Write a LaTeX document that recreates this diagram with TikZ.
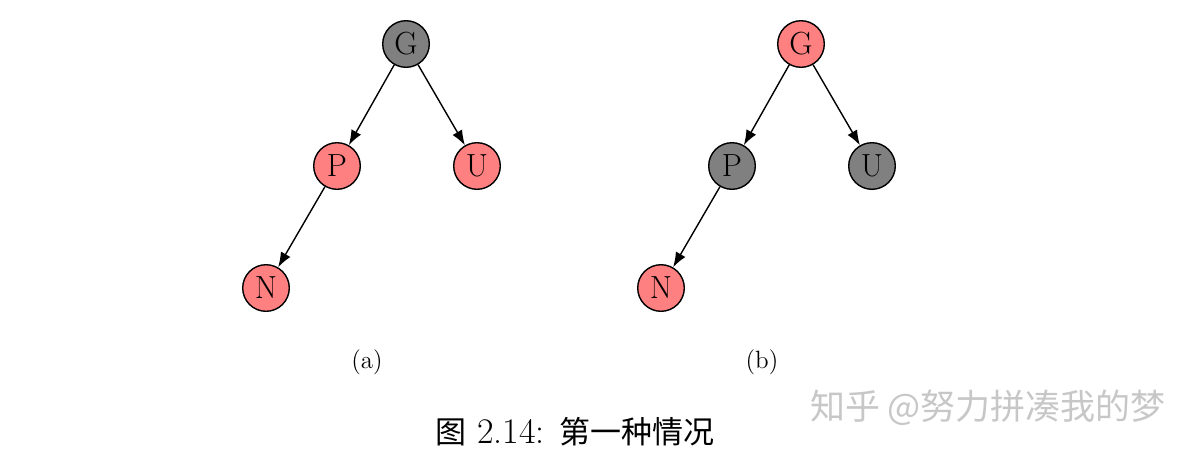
\documentclass[tikz,border=0pt]{standalone}
\usepackage{fontspec}
\newfontfamily\cjk{Noto Sans CJK SC}
\usetikzlibrary{arrows.meta}

\begin{document}
\begin{tikzpicture}[
    x=0.5pt, y=-0.5pt,
    every node/.style={font=\fontsize{16}{18}\selectfont},
    rbnode/.style={circle, draw=black, line width=0.7pt, minimum size=23.3pt, inner sep=0pt},
    rednode/.style={rbnode, fill=red!50},
    blacknode/.style={rbnode, fill=black!50},
    edge/.style={-{Latex[length=7.5pt, width=5.5pt]}, line width=0.7pt}
  ]
  \useasboundingbox (0,0) rectangle (1200,456);
  % (a)
  \node[blacknode] (ga) at (406,44) {G};
  \node[rednode] (pa) at (337,166) {P};
  \node[rednode] (ua) at (477,166) {U};
  \node[rednode] (na) at (266,288) {N};
  \draw[edge] (ga) -- (pa);
  \draw[edge] (ga) -- (ua);
  \draw[edge] (pa) -- (na);
  \node[font=\fontsize{12.5}{15}\selectfont] (capa) at (367,362) {(a)};
  % (b)
  \node[rednode] (gb) at (801,44) {G};
  \node[blacknode] (pb) at (732,166) {P};
  \node[blacknode] (ub) at (872,166) {U};
  \node[rednode] (nb) at (661,288) {N};
  \draw[edge] (gb) -- (pb);
  \draw[edge] (gb) -- (ub);
  \draw[edge] (pb) -- (nb);
  \node[font=\fontsize{12.5}{15}\selectfont] (capb) at (762,362) {(b)};
  % caption
  \node[font=\fontsize{18}{21}\selectfont] (fig) at (575,432) {{\fontsize{15.5}{18}\selectfont\cjk 图} 2.14: {\fontsize{15.5}{18}\selectfont\cjk 第一种情况}};
  \node[font=\fontsize{17.5}{20}\selectfont\cjk, text=black!22] (mark) at (988,408) {知乎 @努力拼凑我的梦};
\end{tikzpicture}
\end{document}
